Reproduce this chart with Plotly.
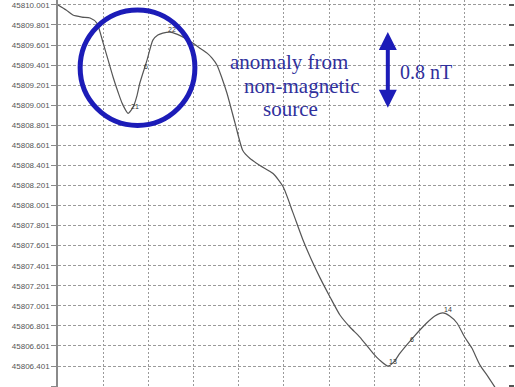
import plotly.graph_objects as go

# ---- data ----
distance = [0.00, 0.18, 0.33, 0.53, 0.71, 0.86, 1.00, 1.11, 1.22, 1.33,
            1.42, 1.55, 1.66, 1.75, 1.81, 1.97, 2.10, 2.21, 2.32, 2.48,
            2.63, 2.77, 2.99, 3.14, 3.30, 3.41, 3.52, 3.63, 3.74, 3.92,
            4.09, 4.25, 4.47, 4.76, 4.98, 5.20, 5.42, 5.64, 5.80, 6.02,
            6.24, 6.46, 6.68, 6.97, 7.12, 7.30, 7.43, 7.57, 7.85, 8.16,
            8.34, 8.52, 8.67, 8.83, 9.00, 9.16, 9.34, 9.51, 9.67]
field_nT = [45810.00, 45809.95, 45809.90, 45809.88, 45809.87, 45809.82, 45809.62, 45809.45, 45809.28, 45809.13,
            45809.02, 45808.92, 45808.98, 45809.10, 45809.22, 45809.45, 45809.65, 45809.70, 45809.72, 45809.73,
            45809.71, 45809.68, 45809.62, 45809.57, 45809.52, 45809.47, 45809.40, 45809.27, 45809.12, 45808.82,
            45808.55, 45808.47, 45808.40, 45808.32, 45808.19, 45807.93, 45807.66, 45807.43, 45807.28, 45807.09,
            45806.91, 45806.79, 45806.69, 45806.53, 45806.46, 45806.40, 45806.44, 45806.53, 45806.68, 45806.83,
            45806.90, 45806.93, 45806.90, 45806.83, 45806.69, 45806.58, 45806.41, 45806.30, 45806.19]

# point labels on the curve
marker_text = ["21", "6", "22", "13", "6", "14"]
marker_x = [1.70, 1.95, 2.52, 7.41, 7.83, 8.63]
marker_y = [45808.99, 45809.39, 45809.76, 45806.45, 45806.67, 45806.96]

tick_vals = [45806.201, 45806.401, 45806.601, 45806.801, 45807.001, 45807.201,
             45807.401, 45807.601, 45807.801, 45808.001, 45808.201, 45808.401,
             45808.601, 45808.801, 45809.001, 45809.201, 45809.401, 45809.601,
             45809.801, 45810.001]
tick_text = ["%.3f" % v for v in tick_vals]
x_grid = [1, 2, 3, 4, 5, 6, 7, 8, 9]

Y_RANGE = [45806.192, 45810.05]
X_RANGE = [0, 9.96]

BLUE = "#1c1cb8"
TEXT_BLUE = "#30309c"
GRID = "#9a9a9a"

fig = go.Figure()
fig.add_trace(go.Scatter(x=distance, y=field_nT, mode="lines",
                         line=dict(color="#555555", width=1.2, shape="spline", smoothing=0.6),
                         hoverinfo="skip", showlegend=False))
# invisible trace for right axis
fig.add_trace(go.Scatter(x=[distance[0]], y=[field_nT[0]], yaxis="y2", mode="markers",
                         marker=dict(opacity=0), showlegend=False, hoverinfo="skip"))

for t, x, y in zip(marker_text, marker_x, marker_y):
    fig.add_annotation(x=x, y=y, text=t, showarrow=False,
                       font=dict(family="Liberation Sans", size=7, color="#333333"))

# hand-drawn circle around the anomaly
fig.add_shape(type="circle", xref="x", yref="y",
              x0=0.49, x1=3.03, y0=45808.80, y1=45809.95,
              line=dict(color=BLUE, width=5))

# double arrow 0.8 nT
fig.add_annotation(x=7.30, y=45809.73, ax=7.30, ay=45808.96, xref="x", yref="y",
                   axref="x", ayref="y", text="", showarrow=True,
                   arrowhead=2, arrowside="end+start", arrowwidth=4, arrowsize=0.9,
                   arrowcolor=BLUE)

fig.add_annotation(x=8.14, y=45809.33, text="0.8 nT", showarrow=False,
                   font=dict(family="Liberation Serif", size=20, color=TEXT_BLUE))
for txt, x, y in [("anomaly from", 5.11, 45809.43), ("non-magnetic", 5.38, 45809.19),
                  ("source", 5.15, 45808.96)]:
    fig.add_annotation(x=x, y=y, text=txt, showarrow=False,
                       font=dict(family="Liberation Serif", size=21, color=TEXT_BLUE))

fig.update_layout(
    width=515, height=387,
    margin=dict(l=58, r=7, t=0, b=0, autoexpand=False),
    paper_bgcolor="white", plot_bgcolor="white",
    showlegend=False,
    xaxis=dict(range=X_RANGE, tickvals=x_grid, showticklabels=False, ticks="",
               showgrid=True, gridcolor=GRID, griddash="2px,2px", gridwidth=1,
               zeroline=False, showline=False),
    yaxis=dict(range=Y_RANGE, tickvals=tick_vals, ticktext=tick_text,
               showgrid=True, gridcolor=GRID, griddash="3px,2px", gridwidth=1,
               zeroline=False, showline=True, linecolor="#8a8a8a", linewidth=1.5,
               ticks="outside", ticklen=5, tickcolor="#8a8a8a",
               tickfont=dict(family="Liberation Sans", size=8, color="#555555")),
    yaxis2=dict(range=Y_RANGE, tickvals=tick_vals, overlaying="y",
                side="right", showgrid=False, zeroline=False, showline=False,
                showticklabels=False,
                ticks="outside", ticklen=5, tickwidth=2, tickcolor="#555555"),
)

fig.write_html("out.html", config={"displayModeBar": False},
               post_script="document.body.style.margin='0';document.body.style.overflow='hidden';")
